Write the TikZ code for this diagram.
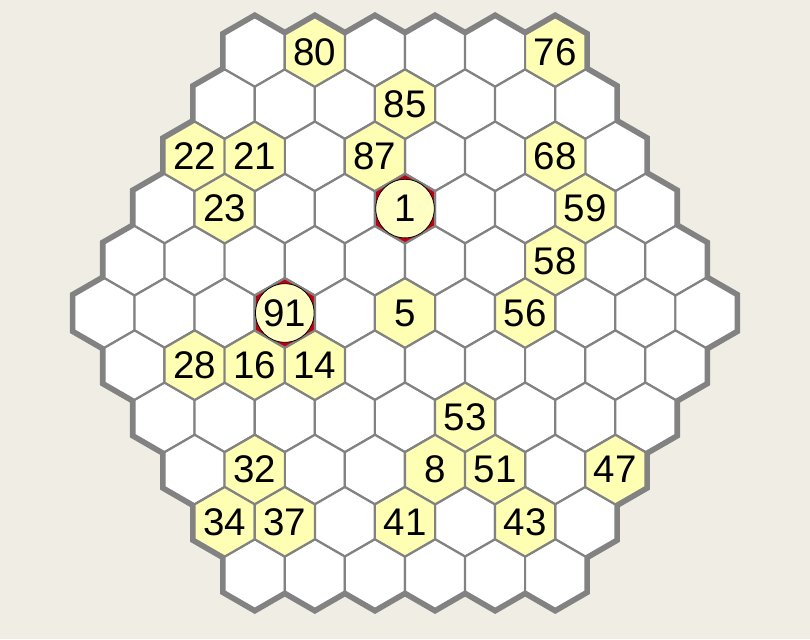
\documentclass[tikz,border=0pt]{standalone}
\usepackage{fontspec}
\setmainfont{Liberation Sans}
\definecolor{paper}{HTML}{F0EEE4}
\definecolor{cellgray}{HTML}{828282}
\definecolor{cellyellow}{HTML}{FFFFB4}
\definecolor{cellred}{HTML}{C00010}
\definecolor{discfill}{HTML}{FFFFC4}
\tikzset{hexcell/.pic={\path[pic actions] (90:34.8) -- (30:34.8) -- (-30:34.8)
           -- (-90:34.8) -- (-150:34.8) -- (150:34.8) -- cycle;},
         rim/.style={draw=cellgray,line width=9pt,line join=miter},
         plain/.style={fill=white,draw=cellgray,line width=2.2pt},
         marked/.style={fill=cellyellow,draw=cellgray,line width=2.2pt},
         start/.style={fill=cellred,draw=cellgray,line width=2.2pt},
         num/.style={font=\fontsize{38.5}{40}\selectfont,inner sep=0pt},
         disc/.style={num,circle,fill=discfill,draw=black,line width=0.8pt,minimum size=58.6pt}}

\begin{document}
\begin{tikzpicture}[x=1pt,y=-1pt]
 \fill[paper] (0,0) rectangle (810,639);
 % cell centres, row by row
 \foreach \r in {0,...,10}{
   \pgfmathtruncatemacro\n{11-abs(\r-5)}
   \foreach \i in {1,...,\n}
     \coordinate (c-\r-\i) at ({405+(\i-(\n+1)/2)*60.1},{313+(\r-5)*52.2});
 }
 % thick outer rim, then the cells over it
 \foreach \r in {0,...,10}{
   \pgfmathtruncatemacro\n{11-abs(\r-5)}
   \foreach \i in {1,...,\n} \pic[rim] at (c-\r-\i) {hexcell};
 }
 \foreach \r in {0,...,10}{
   \pgfmathtruncatemacro\n{11-abs(\r-5)}
   \foreach \i in {1,...,\n} \pic[plain] at (c-\r-\i) {hexcell};
 }
 % numbered cells
 \foreach \r/\i/\t in {0/2/80, 0/6/76, 1/4/85, 2/1/22, 2/2/21, 2/4/87, 2/7/68,
     3/2/23, 3/8/59, 4/8/58, 5/6/5, 5/8/56, 6/2/28, 6/3/16, 6/4/14, 7/6/53,
     8/2/32, 8/5/8, 8/6/51, 8/8/47, 9/1/34, 9/2/37, 9/4/41, 9/6/43}{
   \pic[marked] at (c-\r-\i) {hexcell};
   \node[num] (n\t) at (c-\r-\i) {\t};
 }
 % the two circled cells
 \foreach \r/\i/\t in {3/5/1, 5/4/91}{
   \pic[start] at (c-\r-\i) {hexcell};
   \node[disc] (n\t) at (c-\r-\i) {\t};
 }
\end{tikzpicture}
\end{document}
